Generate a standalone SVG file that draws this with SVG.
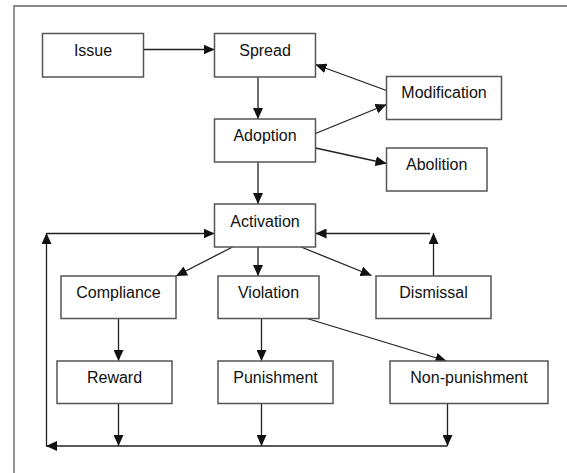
<svg xmlns="http://www.w3.org/2000/svg" width="567" height="473" viewBox="0 0 567 473">
<defs>
<marker id="ah" markerUnits="userSpaceOnUse" markerWidth="11" markerHeight="10" refX="11" refY="5" orient="auto">
<path d="M0,0 L11,5 L0,10 z" fill="#111"/>
</marker>
<style>
.box{fill:#fff;stroke:#555;stroke-width:1.5}
.lbl{font-family:"Liberation Sans",Arial,sans-serif;font-size:16px;fill:#111;text-anchor:middle}
.c{fill:none;stroke:#222;stroke-width:1.3}
.a{marker-end:url(#ah)}
.frame{fill:none;stroke:#888;stroke-width:1.8}
</style>
</defs>
<rect width="567" height="473" fill="#fff"/>
<path class="frame" d="M14,473 V6 H567"/>
<g id="connectors">
<line class="c a" x1="143.5" y1="49.5" x2="214.5" y2="49.5"/>
<line class="c a" x1="258" y1="77" x2="258" y2="119"/>
<line class="c a" x1="386.5" y1="90.5" x2="315.5" y2="64.5"/>
<line class="c a" x1="315.5" y1="133.5" x2="386.5" y2="104.5"/>
<line class="c a" x1="315.5" y1="148" x2="386.5" y2="163.5"/>
<line class="c a" x1="258" y1="162" x2="258" y2="204"/>
<line class="c a" x1="46.5" y1="446" x2="46.5" y2="233"/>
<line class="c a" x1="46.5" y1="233.5" x2="214.5" y2="233.5"/>
<line class="c a" x1="433.5" y1="276" x2="433.5" y2="233"/>
<line class="c a" x1="430" y1="233.5" x2="315.5" y2="233.5"/>
<line class="c a" x1="232.5" y1="247" x2="176" y2="276"/>
<line class="c a" x1="258" y1="247" x2="258" y2="276"/>
<line class="c a" x1="301" y1="247" x2="371.5" y2="275.5"/>
<line class="c a" x1="118.5" y1="318" x2="118.5" y2="361"/>
<line class="c a" x1="261.5" y1="318" x2="261.5" y2="361"/>
<line class="c a" x1="305.5" y1="318" x2="446.5" y2="361"/>
<line class="c a" x1="118.5" y1="403" x2="118.5" y2="446"/>
<line class="c a" x1="261.5" y1="403" x2="261.5" y2="446"/>
<line class="c a" x1="447.5" y1="403" x2="447.5" y2="446"/>
<line class="c a" x1="447.5" y1="446" x2="46" y2="446"/>
</g>
<g id="issue"><rect class="box" x="42.5" y="33.5" width="101" height="43.5"/><text class="lbl" x="93" y="55.5">Issue</text></g>
<g id="spread"><rect class="box" x="214.5" y="33.5" width="101" height="43.5"/><text class="lbl" x="265" y="55.5">Spread</text></g>
<g id="modification"><rect class="box" x="386.5" y="76.5" width="115" height="43"/><text class="lbl" x="444" y="98">Modification</text></g>
<g id="adoption"><rect class="box" x="214.5" y="119" width="101" height="43"/><text class="lbl" x="265" y="140.5">Adoption</text></g>
<g id="abolition"><rect class="box" x="386.5" y="148" width="100.5" height="43"/><text class="lbl" x="436.7" y="169.5">Abolition</text></g>
<g id="activation"><rect class="box" x="214.5" y="204" width="101" height="43"/><text class="lbl" x="265" y="226.5">Activation</text></g>
<g id="compliance"><rect class="box" x="61" y="276" width="115" height="42.5"/><text class="lbl" x="118.5" y="297.5">Compliance</text></g>
<g id="violation"><rect class="box" x="218" y="276" width="101" height="42.5"/><text class="lbl" x="268.5" y="297.5">Violation</text></g>
<g id="dismissal"><rect class="box" x="376" y="276" width="115" height="42.5"/><text class="lbl" x="433.5" y="297.5">Dismissal</text></g>
<g id="reward"><rect class="box" x="57" y="361" width="115" height="42.5"/><text class="lbl" x="114.5" y="382.5">Reward</text></g>
<g id="punishment"><rect class="box" x="218" y="361" width="115" height="42.5"/><text class="lbl" x="275.5" y="382.5">Punishment</text></g>
<g id="non-punishment"><rect class="box" x="390" y="361" width="158" height="42.5"/><text class="lbl" x="469" y="382.5">Non-punishment</text></g>
</svg>
